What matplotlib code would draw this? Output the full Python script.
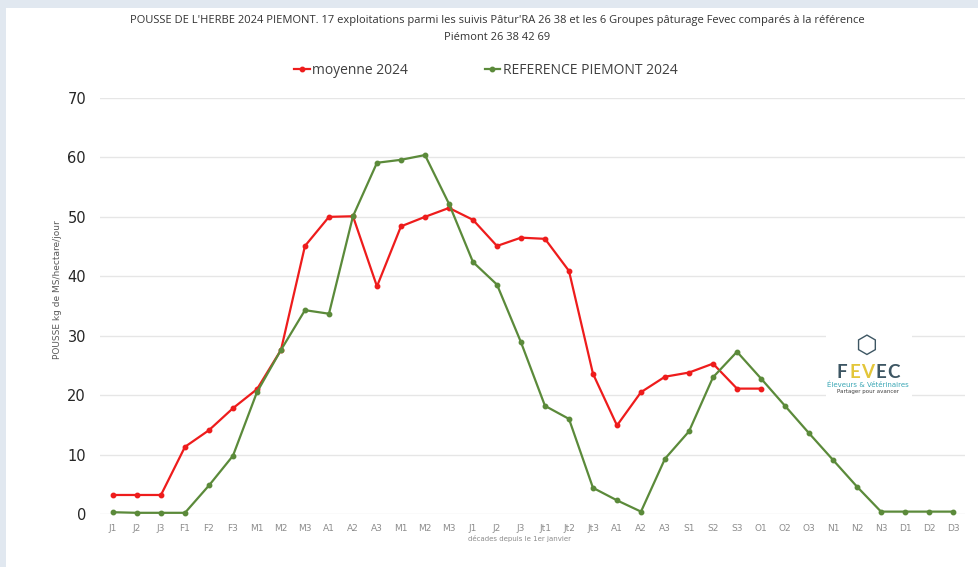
import numpy as np
import matplotlib.pyplot as plt
from matplotlib.patches import Rectangle

decades = ['J1', 'J2', 'J3', 'F1', 'F2', 'F3', 'M1', 'M2', 'M3', 'A1', 'A2', 'A3',
           'M1', 'M2', 'M3', 'J1', 'J2', 'J3', 'Jt1', 'Jt2', 'Jt3', 'A1', 'A2', 'A3',
           'S1', 'S2', 'S3', 'O1', 'O2', 'O3', 'N1', 'N2', 'N3', 'D1', 'D2', 'D3']

moyenne_2024 = [3.2, 3.2, 3.2, 11.3, 14.1, 17.8, 21.0, 27.6, 45.1, 50.0, 50.1, 38.3,
                48.4, 50.0, 51.5, 49.5, 45.1, 46.5, 46.3, 40.9, 23.6, 14.9, 20.5, 23.1,
                23.8, 25.3, 21.1, 21.1]

reference_2024 = [0.3, 0.2, 0.2, 0.2, 4.8, 9.8, 20.5, 27.6, 34.3, 33.7, 50.1, 59.1,
                  59.6, 60.4, 52.2, 42.4, 38.6, 28.9, 18.2, 16.0, 4.4, 2.3, 0.4, 9.3,
                  13.9, 23.0, 27.3, 22.8, 18.2, 13.6, 9.1, 4.6, 0.4, 0.4, 0.4, 0.4]

red = '#ee1c1c'
green = '#5b8a3a'

fig = plt.figure(figsize=(9.79, 5.67), dpi=100, facecolor='#e1e8f0')
W, H = 979, 567
# white card behind everything
fig.patches.append(Rectangle((6 / W, 0), 1, 1 - 8 / H, transform=fig.transFigure,
                             facecolor='white', edgecolor='none', zorder=-10))

ax = fig.add_axes([100 / W, 1 - 514 / H, (965 - 100) / W, (514 - 98) / H])
ax.set_facecolor('none')

x_m = np.arange(len(moyenne_2024))
x_r = np.arange(len(reference_2024))
ax.plot(x_m, moyenne_2024, '-o', color=red, lw=1.6, ms=3.2, label='moyenne 2024',
        clip_on=False, zorder=3)
ax.plot(x_r, reference_2024, '-o', color=green, lw=1.6, ms=3.2,
        label='REFERENCE PIEMONT 2024', clip_on=False, zorder=3)

ax.set_xlim(-0.54, 35.5)
ax.set_ylim(0, 70)
ax.set_yticks(np.arange(0, 71, 10))
ax.set_xticks(np.arange(len(decades)))
ax.set_xticklabels(decades, fontsize=6.5, color='#8c8c8c')
ax.tick_params(axis='y', labelsize=10.5, colors='#262626', length=0, pad=10)
ax.tick_params(axis='x', length=0, pad=7)
ax.grid(axis='y', color='#e6e6e6', lw=1)
ax.set_axisbelow(True)
for s in ax.spines.values():
    s.set_visible(False)

fig.text(58 / W, 1 - 290 / H, 'POUSSE kg de MS/hectare/jour', rotation=90,
         fontsize=6.5, color='#595959', ha='center', va='center')
fig.text(520 / W, 1 - 538 / H, 'décades depuis le 1er janvier', fontsize=5,
         color='#8c8c8c', ha='center', va='center')

fig.text(497 / W, 1 - 20 / H,
         "POUSSE DE L'HERBE 2024 PIEMONT. 17 exploitations parmi les suivis Pâtur'RA 26 38 "
         "et les 6 Groupes pâturage Fevec comparés à la référence",
         fontsize=8, color='#333333', ha='center', va='center', fontfamily='Open Sans')
fig.text(497 / W, 1 - 37 / H, 'Piémont 26 38 42 69', fontsize=8, color='#333333',
         ha='center', va='center', fontfamily='Open Sans')

fig.legend(loc='center', bbox_to_anchor=(486 / W, 1 - 70 / H), ncol=2, frameon=False,
           handlelength=1.1, handletextpad=0.2, columnspacing=5.5,
           labelcolor='#404040', prop={'family': 'Open Sans', 'size': 10})

# logo
fig.patches.append(Rectangle((826 / W, 1 - 400 / H), 86 / W, 72 / H,
                             transform=fig.transFigure, facecolor='white',
                             edgecolor='none', zorder=2))
letters = [('F', '#3d5663', 842), ('E', '#e3c63a', 855), ('V', '#e3c63a', 868),
           ('E', '#3d5663', 881), ('C', '#3d5663', 894)]
for ch, c, lx in letters:
    fig.text(lx / W, 1 - 372 / H, ch, fontsize=13.5, fontweight='bold', color=c,
             ha='center', va='center', fontfamily='Lato', zorder=3)
fig.text(868 / W, 1 - 385 / H, 'Éleveurs & Vétérinaires', fontsize=5, color='#3aa7b5',
         ha='center', va='center', zorder=3)
fig.text(868 / W, 1 - 392 / H, 'Partager pour avancer', fontsize=4, color='#404040',
         ha='center', va='center', zorder=3)
fig.text(866 / W, 1 - 346 / H, '⬡', fontsize=18, color='#3d5663', ha='center',
         va='center', zorder=3)

fig.savefig('out.png', dpi=100, facecolor=fig.get_facecolor())
